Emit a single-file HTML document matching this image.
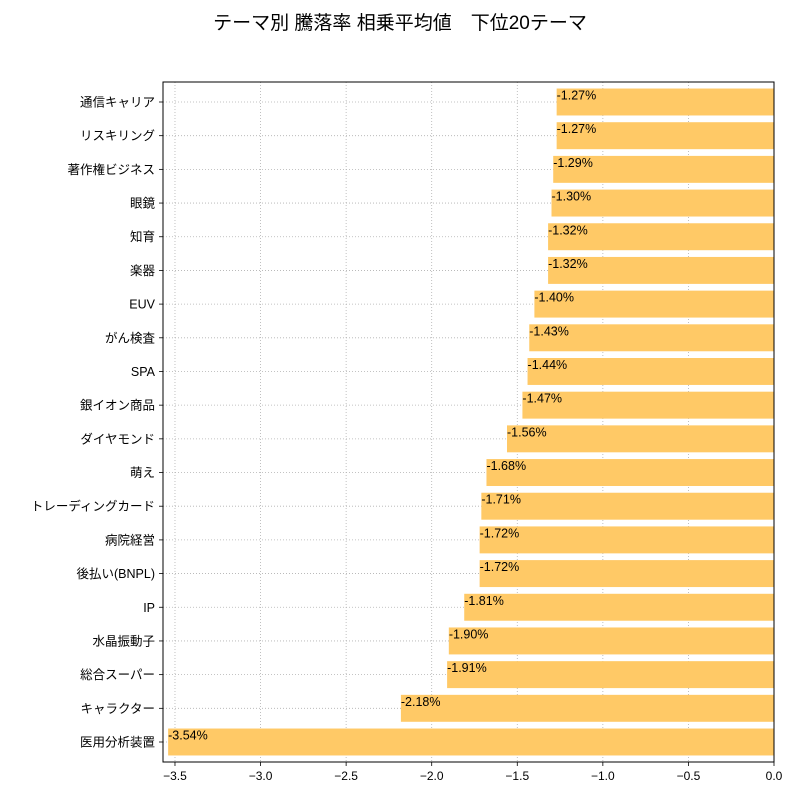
<!DOCTYPE html>
<html><head><meta charset="utf-8"><style>
body{margin:0;background:#fff;}
svg text{font-family:"Liberation Sans","Noto Sans CJK JP",sans-serif;}
</style></head><body>
<svg id="chart" width="800" height="800" viewBox="0 0 800 800">
<text x="400" y="29" text-anchor="middle" font-size="19" fill="#000">テーマ別 騰落率 相乗平均値　下位20テーマ</text>
<g id="grid"></g><g id="bars"></g><g id="axes"></g>
</svg>
<script>
const categories=["通信キャリア","リスキリング","著作権ビジネス","眼鏡","知育","楽器","EUV","がん検査","SPA","銀イオン商品","ダイヤモンド","萌え","トレーディングカード","病院経営","後払い(BNPL)","IP","水晶振動子","総合スーパー","キャラクター","医用分析装置"];
const values=[-1.27,-1.27,-1.29,-1.30,-1.32,-1.32,-1.40,-1.43,-1.44,-1.47,-1.56,-1.68,-1.71,-1.72,-1.72,-1.81,-1.90,-1.91,-2.18,-3.54];
const tickValues=[-3.5,-3.0,-2.5,-2.0,-1.5,-1.0,-0.5,0.0];
const tickLabels=["−3.5","−3.0","−2.5","−2.0","−1.5","−1.0","−0.5","0.0"];
const NS="http://www.w3.org/2000/svg";
const L=163,R=774,T=82,B=762,xmin=-3.57,xmax=0;
const x=v=>L+(v-xmin)/(xmax-xmin)*(R-L);
const step=(B-T-40)/(categories.length-1);
const y=i=>T+20+i*step;
const bh=step*0.8;
function mk(tag,attrs,parent){const e=document.createElementNS(NS,tag);for(const k in attrs)e.setAttribute(k,attrs[k]);parent.appendChild(e);return e;}
const grid=document.getElementById('grid'),bars=document.getElementById('bars'),axes=document.getElementById('axes');
tickValues.forEach((v,i)=>{
 const g=mk('line',{x1:x(v),x2:x(v),y1:T,y2:B,stroke:'#b0b0b0','stroke-width':0.8,'stroke-dasharray':'1,2'},grid);
 
 
 mk('line',{x1:x(v),x2:x(v),y1:B,y2:B+4,stroke:'#000','stroke-width':0.8},axes);
 const t=mk('text',{x:x(v),y:B+18,'text-anchor':'middle','font-size':12},axes);t.textContent=tickLabels[i];
 
 
});
categories.forEach((c,i)=>{
 const g=mk('line',{x1:L,x2:R,y1:y(i),y2:y(i),stroke:'#b0b0b0','stroke-width':0.8,'stroke-dasharray':'1,2'},grid);
 
 
 const v=values[i];
 const r=mk('rect',{x:x(v),y:y(i)-bh/2,width:x(0)-x(v),height:bh,fill:'#ffc966'},bars);
 
 
 const vl=mk('text',{x:x(v),y:y(i)-bh/2+11,'font-size':12.5,fill:'#000'},bars);vl.textContent=v.toFixed(2)+'%';
 
 
 mk('line',{x1:L-4,x2:L,y1:y(i),y2:y(i),stroke:'#000','stroke-width':0.8},axes);
 const t=mk('text',{x:L-8,y:y(i)+4.5,'text-anchor':'end','font-size':12.5},axes);t.textContent=c;
 
 
});
const f=mk('rect',{x:L,y:T,width:R-L,height:B-T,fill:'none',stroke:'#000','stroke-width':1},axes);


</script>
</body></html>
